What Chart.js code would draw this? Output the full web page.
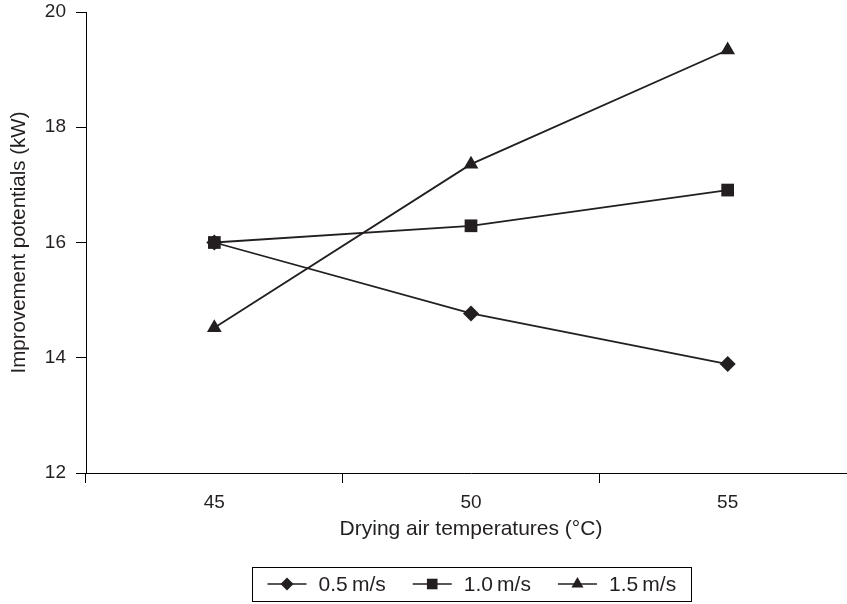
<!DOCTYPE html>
<html>
<head>
<meta charset="utf-8">
<script src="https://cdn.jsdelivr.net/npm/chart.js@4"></script>
<style>
  html, body { margin: 0; padding: 0; background: #fff; overflow: hidden; }
  #chart { display: block; }
</style>
</head>
<body>
<canvas id="chart" width="865" height="604"></canvas>
<script>
const temps = ["45", "50", "55"];
const speedLabels = ["0.5\u2009m/s", "1.0\u2009m/s", "1.5\u2009m/s"];
const v05 = [16.0, 14.77, 13.89];
const v10 = [16.0, 16.29, 16.91];
const v15 = [14.52, 17.36, 19.34];
const yTicks = [12, 14, 16, 18, 20];

const ink = "#231f20";
const font = "'Liberation Sans', Arial, sans-serif";

function series(label, data, style, r) {
    return {
        label: label,
        data: data,
        borderColor: ink,
        backgroundColor: ink,
        borderWidth: 1.8,
        pointStyle: style,
        pointRadius: r,
        pointHoverRadius: r,
        pointBorderWidth: 0,
        tension: 0,
        fill: false
    };
}

// legend drawn in a box under the axis
const boxLegend = {
    id: "boxLegend",
    afterDraw(chart) {
        const ctx = chart.ctx;
        const sets = chart.data.datasets;
        ctx.save();
        ctx.font = "21px " + font;
        const lineW = 39, gap = 12, itemGap = 27, pad = 15;
        const widths = sets.map(d => lineW + gap + ctx.measureText(d.label).width);
        const total = widths.reduce((a, b) => a + b, 0) + itemGap * (sets.length - 1) + pad * 2;
        const cx = (chart.chartArea.left + chart.chartArea.right) / 2;
        const cy = 584, h = 34;
        const x0 = Math.round(cx - total / 2) + 0.5;
        ctx.strokeStyle = "#000";
        ctx.lineWidth = 1;
        ctx.strokeRect(x0, Math.round(cy - h / 2) + 0.5, Math.round(total), h);
        let x = x0 + pad;
        sets.forEach((d, i) => {
            ctx.strokeStyle = ink;
            ctx.lineWidth = 1.6;
            ctx.beginPath();
            ctx.moveTo(x, cy);
            ctx.lineTo(x + lineW, cy);
            ctx.stroke();
            ctx.fillStyle = ink;
            Chart.helpers.drawPoint(ctx, {
                pointStyle: d.pointStyle,
                radius: d.pointRadius - 1.5,
                borderWidth: 0
            }, x + lineW / 2, cy);
            ctx.fillStyle = ink;
            ctx.textBaseline = "middle";
            ctx.textAlign = "left";
            ctx.fillText(d.label, x + lineW + gap, cy + 1);
            x += widths[i] + itemGap;
        });
        ctx.restore();
    }
};

new Chart(document.getElementById("chart"), {
    type: "line",
    data: {
        labels: temps,
        datasets: [
            series(speedLabels[0], v05, "rectRot", 8),
            series(speedLabels[1], v10, "rect", 9),
            series(speedLabels[2], v15, "triangle", 8.5)
        ]
    },
    options: {
        responsive: false,
        animation: false,
        layout: { padding: { top: 0, right: 8, bottom: 62, left: 0 } },
        plugins: {
            legend: { display: false },
            tooltip: { enabled: false }
        },
        scales: {
            x: {
                type: "category",
                offset: true,
                grid: {
                    offset: true,
                    drawOnChartArea: false,
                    drawTicks: true,
                    tickLength: 10,
                    color: "#000",
                    tickColor: "#000"
                },
                border: { color: "#000", width: 1 },
                ticks: {
                    color: ink,
                    padding: 8,
                    font: { family: font, size: 19 }
                },
                title: {
                    display: true,
                    text: "Drying air temperatures (\u00b0C)",
                    color: ink,
                    font: { family: font, size: 21 },
                    padding: { top: 2, bottom: 0 }
                },
                afterFit(s) { s.height = 69; }
            },
            y: {
                min: 12,
                max: 20,
                afterBuildTicks(s) { s.ticks = yTicks.map(v => ({ value: v })); },
                grid: {
                    drawOnChartArea: false,
                    tickLength: 10,
                    color: "#000",
                    tickColor: "#000"
                },
                border: { color: "#000", width: 1 },
                ticks: {
                    color: ink,
                    padding: 10,
                    font: { family: font, size: 19 }
                },
                title: {
                    display: true,
                    text: "Improvement potentials (kW)",
                    color: ink,
                    font: { family: font, size: 20.5 },
                    padding: { top: 7, bottom: 0 }
                },
                afterFit(s) {
                    s.width = 86;
                    s.paddingTop = 12;
                    s.paddingBottom = 0;
                }
            }
        }
    },
    plugins: [boxLegend]
});
</script>
</body>
</html>
